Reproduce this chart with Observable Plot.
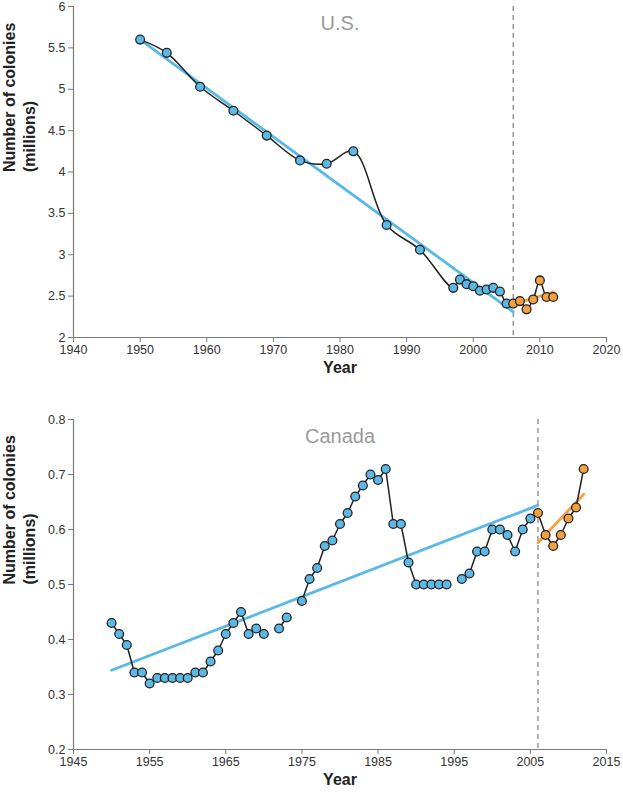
<!DOCTYPE html>
<html>
<head>
<meta charset="utf-8">
<script src="https://cdn.jsdelivr.net/npm/d3@7"></script>
<script src="https://cdn.jsdelivr.net/npm/@observablehq/plot@0.6"></script>
<style>
  html, body { margin: 0; padding: 0; background: #fff; }
  #chart svg { display: block; }
</style>
</head>
<body>
<div id="chart"></div>
<script>
// ---------- U.S. data (millions of colonies) ----------
const usYears = [1950, 1954, 1959, 1964, 1969, 1974, 1978, 1982, 1987, 1992, 1997, 1998, 1999, 2000, 2001, 2002, 2003, 2004, 2005];
const usColonies = [5.60, 5.44, 5.03, 4.74, 4.44, 4.14, 4.10, 4.25, 3.36, 3.06, 2.60, 2.70, 2.645, 2.62, 2.565, 2.58, 2.60, 2.555, 2.41];
const usRecentYears = [2006, 2007, 2008, 2009, 2010, 2011, 2012];
const usRecentColonies = [2.41, 2.44, 2.34, 2.46, 2.69, 2.49, 2.49];
const usTrendYears = [1950, 2006];
const usTrendValues = [5.60, 2.31];
const usRecentTrendYears = [2006, 2012];
const usRecentTrendValues = [2.40, 2.55];
const usXTicks = [1940, 1950, 1960, 1970, 1980, 1990, 2000, 2010, 2020];
const usYTicks = [2, 2.5, 3, 3.5, 4, 4.5, 5, 5.5, 6];

// ---------- Canada data (millions of colonies) ----------
const caYears = [1950, 1951, 1952, 1953, 1954, 1955, 1956, 1957, 1958, 1959,
                 1960, 1961, 1962, 1963, 1964, 1965, 1966, 1967, 1968, 1969,
                 1970, 1971, 1972, 1973, 1974, 1975, 1976, 1977, 1978, 1979,
                 1980, 1981, 1982, 1983, 1984, 1985, 1986, 1987, 1988, 1989,
                 1990, 1991, 1992, 1993, 1994, 1995, 1996, 1997, 1998, 1999,
                 2000, 2001, 2002, 2003, 2004, 2005];
const caColonies = [0.43, 0.41, 0.39, 0.34, 0.34, 0.32, 0.33, 0.33, 0.33, 0.33,
                    0.33, 0.34, 0.34, 0.36, 0.38, 0.41, 0.43, 0.45, 0.41, 0.42,
                    0.41, null, 0.42, 0.44, null, 0.47, 0.51, 0.53, 0.57, 0.58,
                    0.61, 0.63, 0.66, 0.68, 0.70, 0.69, 0.71, 0.61, 0.61, 0.54,
                    0.50, 0.50, 0.50, 0.50, 0.50, null, 0.51, 0.52, 0.56, 0.56,
                    0.60, 0.60, 0.59, 0.56, 0.60, 0.62];
const caRecentYears = [2006, 2007, 2008, 2009, 2010, 2011, 2012];
const caRecentColonies = [0.63, 0.59, 0.57, 0.59, 0.62, 0.64, 0.71];
const caTrendYears = [1950, 2006];
const caTrendValues = [0.344, 0.644];
const caRecentTrendYears = [2006, 2012];
const caRecentTrendValues = [0.576, 0.664];
const caXTicks = [1945, 1955, 1965, 1975, 1985, 1995, 2005, 2015];
const caYTicks = [0.2, 0.3, 0.4, 0.5, 0.6, 0.7, 0.8];

const breakYear = 2006;

// ---------- styling ----------
const BLUE = "#5cb8e4";
const BLUE_TREND = "#58b9e6";
const ORANGE = "#f2a040";
const LINE = "#222";
const AXIS = "#7a7a7a";
const FONT = "'Liberation Sans', Arial, Helvetica, sans-serif";

const rows = (xs, ys) => xs.map((x, i) => ({year: x, value: ys[i]}));

function chart({title, years, values, recentYears, recentValues, trendYears, trendValues,
                recentTrendYears, recentTrendValues, xTicks, yTicks, xDomain, yDomain,
                height, marginTop, marginBottom, curve}) {
  const past = rows(years, values);
  const recent = rows(recentYears, recentValues);
  const all = past.concat(recent);
  const trend = rows(trendYears, trendValues);
  const recentTrend = rows(recentTrendYears, recentTrendValues);
  return Plot.plot({
    width: 623,
    height,
    marginLeft: 73,
    marginRight: 17,
    marginTop,
    marginBottom,
    style: {fontFamily: FONT, fontSize: "12.5px", color: "#333", background: "#fff", overflow: "visible"},
    x: {domain: xDomain},
    y: {domain: yDomain},
    marks: [
      Plot.ruleX([breakYear], {stroke: "#888", strokeWidth: 1.3, strokeDasharray: "5,4"}),
      Plot.axisX({ticks: xTicks, tickFormat: d => String(d), tickSize: 5, tickPadding: 3, stroke: AXIS, fill: "#333", fontSize: 12.5, label: null}),
      Plot.axisY({ticks: yTicks, tickFormat: d => String(d), tickSize: 5, tickPadding: 3, stroke: AXIS, fill: "#333", fontSize: 12.5, label: null}),
      Plot.ruleY([yDomain[0]], {stroke: AXIS, strokeWidth: 1.2}),
      Plot.ruleX([xDomain[0]], {stroke: AXIS, strokeWidth: 1.2}),
      Plot.line(trend, {x: "year", y: "value", stroke: BLUE_TREND, strokeWidth: 2.8}),
      Plot.line(recentTrend, {x: "year", y: "value", stroke: ORANGE, strokeWidth: 2.8}),
      Plot.line(all, {x: "year", y: "value", stroke: LINE, strokeWidth: 1.5, curve}),
      Plot.dot(past, {x: "year", y: "value", r: 4.4, fill: BLUE, stroke: LINE, strokeWidth: 1.3}),
      Plot.dot(recent, {x: "year", y: "value", r: 4.4, fill: ORANGE, stroke: LINE, strokeWidth: 1.3}),
      Plot.text([{x: 1980, t: title}], {x: "x", text: "t", frameAnchor: "top", dy: 9, fontSize: 20, fill: "#9a9a9a"}),
      Plot.text([{x: 1980, t: "Year"}], {x: "x", text: "t", frameAnchor: "bottom", dy: 35, fontSize: 16, fontWeight: "bold", fill: "#222"}),
      Plot.text([{t: "Number of colonies\n(millions)"}], {text: "t", frameAnchor: "left", dx: -55, rotate: -90, fontSize: 16, fontWeight: "bold", lineHeight: 1.25, fill: "#222"})
    ]
  });
}

const el = document.getElementById("chart");
el.appendChild(chart({
  title: "U.S.",
  years: usYears, values: usColonies,
  recentYears: usRecentYears, recentValues: usRecentColonies,
  trendYears: usTrendYears, trendValues: usTrendValues,
  recentTrendYears: usRecentTrendYears, recentTrendValues: usRecentTrendValues,
  xTicks: usXTicks, yTicks: usYTicks,
  xDomain: [1940, 2020], yDomain: [2, 6],
  height: 390, marginTop: 6, marginBottom: 53,
  curve: "catmull-rom"
}));
el.appendChild(chart({
  title: "Canada",
  years: caYears, values: caColonies,
  recentYears: caRecentYears, recentValues: caRecentColonies,
  trendYears: caTrendYears, trendValues: caTrendValues,
  recentTrendYears: caRecentTrendYears, recentTrendValues: caRecentTrendValues,
  xTicks: caXTicks, yTicks: caYTicks,
  xDomain: [1945, 2015], yDomain: [0.2, 0.8],
  height: 403, marginTop: 29, marginBottom: 44,
  curve: "linear"
}));
</script>
</body>
</html>
